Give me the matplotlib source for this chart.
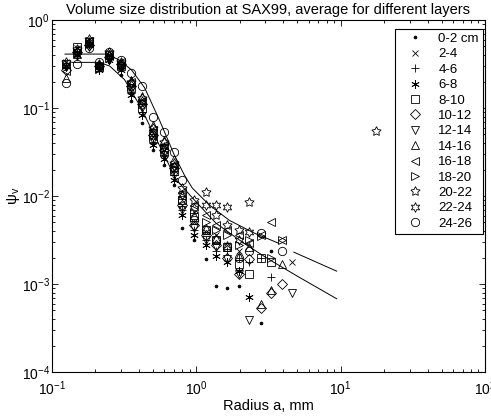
import numpy as np
import matplotlib
matplotlib.use("Agg")
import matplotlib.pyplot as plt

nan = np.nan

# radius bins (mm); last entry holds the single far-out 20-22 point
radius = [0.125, 0.15, 0.18, 0.21, 0.25, 0.30, 0.35, 0.42, 0.50, 0.60, 0.70,
          0.80, 0.97, 1.17, 1.37, 1.64, 1.98, 2.32, 2.81, 3.29, 3.92, 4.59, 17.7]

layers = ["0-2 cm", "2-4", "4-6", "6-8", "8-10", "10-12", "12-14", "14-16",
          "16-18", "18-20", "20-22", "22-24", "24-26"]

psi_0_2 = [0.285, 0.40, 0.52, 0.27, 0.33, 0.24, 0.12, 0.068, 0.033, 0.0225, 0.0133,
           0.0043, 0.0032, 0.0019, 0.00095, 0.00090, 0.00094, nan, 0.00036, 0.0024, nan, nan, nan]
psi_2_4 = [0.33, 0.48, 0.59, 0.30, 0.40, 0.31, 0.17, 0.108, 0.047, 0.033, 0.020,
           0.0079, 0.0051, 0.0039, 0.0036, 0.0028, 0.0024, nan, nan, nan, nan, 0.0018, nan]
psi_4_6 = [0.31, 0.43, 0.56, 0.285, 0.37, 0.285, 0.15, 0.090, 0.040, 0.029, 0.0173,
           0.0069, 0.0041, 0.0032, 0.0024, 0.0024, 0.0020, 0.0018, 0.0020, 0.0012, nan, nan, nan]
psi_6_8 = [0.30, 0.40, 0.53, 0.27, 0.35, 0.27, 0.14, 0.083, 0.038, 0.026, 0.0152,
           0.0061, 0.0036, 0.0028, 0.0021, 0.0018, 0.0014, 0.00072, nan, nan, nan, nan, nan]
psi_8_10 = [0.32, 0.49, 0.56, 0.29, 0.40, 0.30, 0.17, 0.10, 0.046, 0.032, 0.019,
            0.0090, 0.0057, 0.0041, 0.0032, 0.0026, 0.0017, 0.0013, 0.0020, 0.0018, nan, nan, nan]
psi_10_12 = [0.27, 0.43, 0.52, 0.30, 0.38, 0.32, 0.18, 0.11, 0.049, 0.033, 0.021,
             0.0079, 0.0047, 0.0036, 0.0028, 0.0020, 0.0013, 0.0019, 0.00054, 0.00079, 0.0010, nan, nan]
psi_12_14 = [0.29, 0.39, 0.49, 0.285, 0.35, 0.285, 0.16, 0.10, 0.043, 0.029, 0.0173,
             0.0069, 0.0043, 0.0032, 0.0026, 0.0019, 0.0013, 0.00039, nan, nan, nan, 0.00080, nan]
psi_14_16 = [0.22, 0.41, 0.55, 0.31, 0.41, 0.32, 0.21, 0.137, 0.064, 0.043, 0.026,
             0.0103, 0.0061, 0.0043, 0.0033, 0.0028, 0.0021, 0.0026, 0.00059, 0.00085, 0.0017, nan, nan]
psi_16_18 = [0.26, 0.46, 0.58, 0.30, 0.39, 0.33, 0.20, 0.12, 0.056, 0.038, 0.0225,
             0.011, 0.0079, 0.0061, 0.0047, 0.0041, 0.0036, 0.0029, 0.0036, 0.0051, 0.0032, nan, nan]
psi_18_20 = [0.32, 0.42, 0.53, 0.28, 0.37, 0.31, 0.18, 0.11, 0.049, 0.035, 0.021,
             0.0090, 0.0066, 0.0051, 0.0041, 0.0036, 0.0028, 0.0032, 0.0035, 0.0020, 0.0032, nan, nan]
psi_20_22 = [0.33, 0.47, 0.61, 0.32, 0.43, 0.33, 0.20, 0.13, 0.059, 0.041, 0.024,
             0.0123, 0.0090, 0.011, 0.0061, 0.0047, 0.0041, 0.0086, nan, nan, nan, nan, 0.055]
psi_22_24 = [0.30, 0.44, 0.56, 0.29, 0.40, 0.32, 0.19, 0.12, 0.053, 0.036, 0.022,
             0.0103, 0.0073, 0.0079, 0.0079, 0.0075, 0.0032, 0.0039, nan, nan, nan, nan, nan]
psi_24_26 = [0.19, 0.32, 0.48, 0.33, 0.43, 0.35, 0.25, 0.18, 0.079, 0.053, 0.032,
             0.0152, 0.0053, 0.0041, 0.0032, 0.0026, 0.0020, 0.0024, 0.0038, nan, 0.0024, nan, nan]

# the two envelope curves
upper_r = [0.123, 0.239, 0.294, 0.356, 0.438, 0.555, 0.705, 0.826, 0.938, 1.23, 1.69,
           2.51, 3.73, nan, 4.74, 9.38]
upper_psi = [0.41, 0.41, 0.35, 0.27, 0.17, 0.073, 0.029, 0.0173, 0.0123, 0.0079, 0.0053,
             0.0038, 0.0029, nan, 0.0023, 0.0014]
lower_r = [0.137, 0.211, 0.251, 0.318, 0.404, 0.513, 0.631, 0.728, 0.969, 1.37, 2.14,
           3.19, 5.13, 9.38]
lower_psi = [0.33, 0.33, 0.30, 0.21, 0.108, 0.049, 0.0245, 0.0152, 0.009, 0.0049, 0.0029,
             0.0019, 0.0012, 0.00068]

series = [psi_0_2, psi_2_4, psi_4_6, psi_6_8, psi_8_10, psi_10_12, psi_12_14,
          psi_14_16, psi_16_18, psi_18_20, psi_20_22, psi_22_24, psi_24_26]
markers = [".", "x", "+", (6, 2, 0), "s", "D", "v", "^", "<", ">", (5, 1, 0), (6, 1, 0), "o"]
sizes = [4, 4, 6, 6, 6, 5, 6, 6, 6, 6, 7, 7, 6]

plt.rcParams["font.family"] = ["Liberation Sans", "DejaVu Sans"]
plt.rcParams["mathtext.default"] = "regular"

fig = plt.figure(figsize=(4.91, 4.18), dpi=100)
ax = fig.add_axes([52 / 491, 46 / 418, 433 / 491, 352 / 418])

for vals, lab, m, s in zip(series, layers, markers, sizes):
    fill = "k" if m == "." else "none"
    ax.plot(radius, vals, linestyle="none", marker=m, markersize=s,
            markerfacecolor=fill, markeredgecolor="k", markeredgewidth=0.6, label=lab)

ax.plot(upper_r, upper_psi, color="k", lw=0.7)
ax.plot(lower_r, lower_psi, color="k", lw=0.7)

ax.set_xscale("log")
ax.set_yscale("log")
ax.set_xlim(0.1, 100)
ax.set_ylim(1e-4, 1)
ax.tick_params(which="both", direction="in", top=True, right=True, labelsize=10, width=0.6)
ax.tick_params(which="major", length=4)
ax.tick_params(which="minor", length=2)
ax.tick_params(axis="y", pad=1.5)
ax.tick_params(axis="x", pad=5.5)
for sp in ax.spines.values():
    sp.set_linewidth(0.8)

ax.set_title("Volume size distribution at SAX99, average for different layers", fontsize=10.5, pad=4)
ax.set_xlabel("Radius a, mm", fontsize=10.5, labelpad=0.5)
ax.set_ylabel(r"$\psi_v$", fontsize=11, labelpad=0)

leg = ax.legend(loc="upper right", bbox_to_anchor=(0.995, 0.975), fontsize=9.5, frameon=True,
                fancybox=False, framealpha=1, edgecolor="k", handlelength=2.4,
                handletextpad=0.6, labelspacing=0.24, borderpad=0.3, borderaxespad=0)
leg.get_frame().set_linewidth(0.8)

fig.savefig("out.png", dpi=100)
